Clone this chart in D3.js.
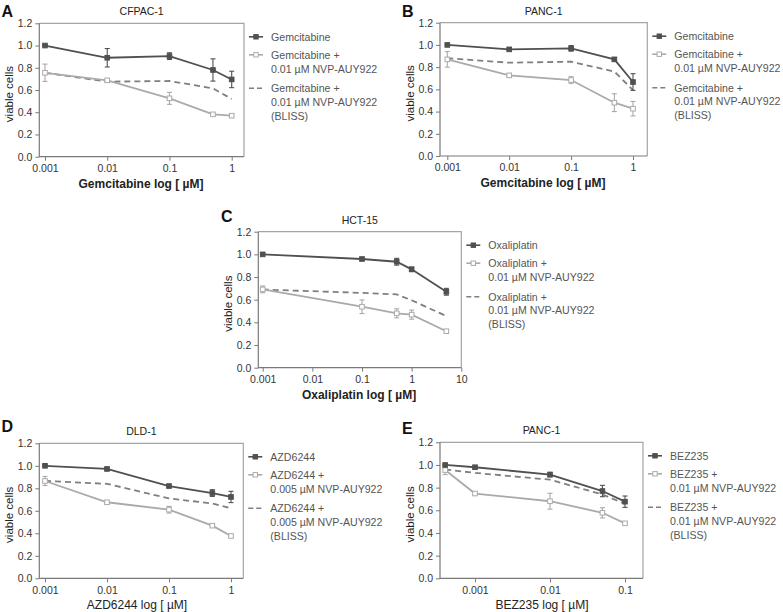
<!DOCTYPE html>
<html><head><meta charset="utf-8">
<script src="https://cdn.jsdelivr.net/npm/d3@7"></script>
<style>body{margin:0;background:#fff;} svg{display:block;font-family:Arial,"Liberation Sans",sans-serif;}</style>
</head><body>
<svg id="c" width="783" height="612"></svg>
<script>
// ---------- DATA ----------
const yTicks = [0, 0.2, 0.4, 0.6, 0.8, 1.0, 1.2];

// A: CFPAC-1, Gemcitabine
const aDose = [0.001, 0.01, 0.1, 0.5, 1];
const aSingle = [1.0, 0.89, 0.905, 0.78, 0.695];
const aSingleErr = [0.005, 0.083, 0.03, 0.1, 0.074];
const aCombo = [0.755, 0.687, 0.525, 0.381, 0.369];
const aComboErr = [0.078, 0.01, 0.054, 0.01, 0.01];
const aBliss = [0.755, 0.675, 0.681, 0.615, 0.519];
const aTicks = [0.001, 0.01, 0.1, 1];
const aTickLabels = ["0.001", "0.01", "0.1", "1"];

// B: PANC-1, Gemcitabine
const bDose = [0.001, 0.01, 0.1, 0.5, 1];
const bSingle = [1.0, 0.96, 0.969, 0.87, 0.666];
const bSingleErr = [0.005, 0.01, 0.025, 0.015, 0.075];
const bCombo = [0.87, 0.726, 0.684, 0.48, 0.426];
const bComboErr = [0.07, 0.012, 0.03, 0.08, 0.065];
const bBliss = [0.88, 0.84, 0.849, 0.76, 0.594];
const bTicks = [0.001, 0.01, 0.1, 1];
const bTickLabels = ["0.001", "0.01", "0.1", "1"];

// C: HCT-15, Oxaliplatin
const cDose = [0.001, 0.1, 0.5, 1, 5];
const cSingle = [1.0, 0.959, 0.935, 0.868, 0.67];
const cSingleErr = [0.005, 0.01, 0.03, 0.02, 0.03];
const cCombo = [0.691, 0.538, 0.48, 0.468, 0.322];
const cComboErr = [0.03, 0.06, 0.04, 0.04, 0.01];
const cBliss = [0.69, 0.66, 0.647, 0.595, 0.456];
const cTicks = [0.001, 0.01, 0.1, 1, 10];
const cTickLabels = ["0.001", "0.01", "0.1", "1", "10"];

// D: DLD-1, AZD6244
const dDose = [0.001, 0.01, 0.1, 0.5, 1];
const dSingle = [1.0, 0.972, 0.82, 0.758, 0.723];
const dSingleErr = [0.005, 0.01, 0.01, 0.03, 0.05];
const dCombo = [0.865, 0.676, 0.61, 0.468, 0.376];
const dComboErr = [0.04, 0.01, 0.03, 0.01, 0.01];
const dBliss = [0.865, 0.84, 0.71, 0.665, 0.622];
const dTicks = [0.001, 0.01, 0.1, 1];
const dTickLabels = ["0.001", "0.01", "0.1", "1"];

// E: PANC-1, BEZ235
const eDose = [0.0004, 0.001, 0.01, 0.05, 0.1];
const eSingle = [1.0, 0.98, 0.915, 0.77, 0.676];
const eSingleErr = [0.005, 0.01, 0.02, 0.05, 0.05];
const eCombo = [0.955, 0.748, 0.68, 0.578, 0.485];
const eComboErr = [0.04, 0.01, 0.07, 0.045, 0.01];
const eBliss = [0.96, 0.93, 0.87, 0.74, 0.656];
const eTicks = [0.001, 0.01, 0.1];
const eTickLabels = ["0.001", "0.01", "0.1"];

// Text
const panelLetters = ["A", "B", "C", "D", "E"];
const panelTitles = ["CFPAC-1", "PANC-1", "HCT-15", "DLD-1", "PANC-1"];
const xTitles = ["Gemcitabine log [ \u00b5M]", "Gemcitabine log [ \u00b5M]", "Oxaliplatin log [ \u00b5M]", "AZD6244 log [ \u00b5M]", "BEZ235 log [ \u00b5M]"];
const drugNames = ["Gemcitabine", "Gemcitabine", "Oxaliplatin", "AZD6244", "BEZ235"];
const hspConc = ["0.01", "0.01", "0.01", "0.005", "0.01"];

// ---------- LAYOUT ----------
const layout = [
  {axisX: 39.3, tx0: 45, tx1: 231.7, right: 244, top: 23.3, bottom: 156.7, boldX: true, letterX: 1.5, letterY: 17, titleX: 141},
  {axisX: 440, tx0: 447.3, tx1: 633, right: 647.3, top: 22.7, bottom: 156, boldX: true, letterX: 402, letterY: 17, titleX: 543},
  {axisX: 258.3, tx0: 262.7, tx1: 461.3, right: 461.3, top: 231.7, bottom: 367.7, boldX: true, letterX: 221, letterY: 222, titleX: 359},
  {axisX: 39.3, tx0: 45, tx1: 231, right: 243.3, top: 443.3, bottom: 578.3, boldX: false, letterX: 1.5, letterY: 432, titleX: 137},
  {axisX: 440, tx0: 475, tx1: 625, right: 643, top: 442.3, bottom: 578.3, boldX: false, letterX: 402, letterY: 434, titleX: 542}
];

const panelData = [
  [aDose, aSingle, aSingleErr, aCombo, aComboErr, aBliss, aTicks, aTickLabels],
  [bDose, bSingle, bSingleErr, bCombo, bComboErr, bBliss, bTicks, bTickLabels],
  [cDose, cSingle, cSingleErr, cCombo, cComboErr, cBliss, cTicks, cTickLabels],
  [dDose, dSingle, dSingleErr, dCombo, dComboErr, dBliss, dTicks, dTickLabels],
  [eDose, eSingle, eSingleErr, eCombo, eComboErr, eBliss, eTicks, eTickLabels]
];

const DARK = "#505050", LIGHT = "#aaaaaa", DASH = "#7f7f7f";
const AXIS = "#7a7a7a", FRAME = "#a5a5a5";

const svg = d3.select("#c");

panelData.forEach((pd, i) => {
  const [dose, single, singleErr, combo, comboErr, bliss, ticks, tickLabels] = pd;
  const L = layout[i];
  const g = svg.append("g");
  const x = d3.scaleLog().domain([ticks[0], ticks[ticks.length - 1]]).range([L.tx0, L.tx1]);
  const y = d3.scaleLinear().domain([0, 1.2]).range([L.bottom, L.top]);

  // frame (top & right)
  g.append("path").attr("d", `M${L.axisX},${L.top}H${L.right}V${L.bottom}`)
    .attr("fill", "none").attr("stroke", FRAME).attr("stroke-width", 1.2);

  // y axis
  const ya = g.append("g").attr("transform", `translate(${L.axisX},0)`)
    .call(d3.axisLeft(y).tickValues(yTicks).tickFormat(d3.format(".1f")).tickSize(4).tickPadding(3));
  // x axis
  const xa = g.append("g").attr("transform", `translate(0,${L.bottom})`)
    .call(d3.axisBottom(x).tickValues(ticks).tickFormat((d, k) => tickLabels[k]).tickSize(4).tickPadding(4).tickSizeOuter(0));
  [ya, xa].forEach(a => {
    a.select(".domain").remove();
    a.selectAll("line").attr("stroke", AXIS);
    a.selectAll("text").attr("fill", "#333").style("font-size", "10.5px").style("font-family", "Arial, 'Liberation Sans', sans-serif");
  });
  g.append("path").attr("d", `M${L.axisX},${L.top}V${L.bottom}H${L.right}`)
    .attr("fill", "none").attr("stroke", AXIS).attr("stroke-width", 1.2);

  // axis titles
  g.append("text").attr("x", L.titleX).attr("y", L.bottom + 31)
    .attr("text-anchor", "middle").attr("fill", "#222")
    .style("font-size", "12px").style("font-weight", L.boldX ? "bold" : "normal")
    .text(xTitles[i]);
  g.append("text").attr("transform", `translate(${L.axisX - 26},${(L.top + L.bottom) / 2 + 4}) rotate(-90)`)
    .attr("text-anchor", "middle").attr("fill", "#222").style("font-size", "11.5px")
    .text("viable cells");
  // panel title
  g.append("text").attr("x", (L.axisX + L.right) / 2).attr("y", L.top - 8)
    .attr("text-anchor", "middle").attr("fill", "#222").style("font-size", "10.5px")
    .text(panelTitles[i]);
  // panel letter
  g.append("text").attr("x", L.letterX).attr("y", L.letterY)
    .attr("fill", "#111").style("font-size", "16px").style("font-weight", "bold")
    .text(panelLetters[i]);

  const line = d3.line().x(d => x(d[0])).y(d => y(d[1]));
  const pts = (vals) => dose.map((d, k) => [d, vals[k]]);

  // bliss dashed
  g.append("path").attr("d", line(pts(bliss))).attr("fill", "none")
    .attr("stroke", DASH).attr("stroke-width", 1.8).attr("stroke-dasharray", "6,4");

  function series(vals, errs, color, filled) {
    g.append("path").attr("d", line(pts(vals))).attr("fill", "none")
      .attr("stroke", color).attr("stroke-width", 1.8);
    const eg = g.append("g").attr("stroke", color).attr("stroke-width", 1.1);
    dose.forEach((d, k) => {
      const cx = x(d), y1 = y(vals[k] + errs[k]), y2 = y(vals[k] - errs[k]);
      eg.append("line").attr("x1", cx).attr("x2", cx).attr("y1", y1).attr("y2", y2);
      eg.append("line").attr("x1", cx - 2.5).attr("x2", cx + 2.5).attr("y1", y1).attr("y2", y1);
      eg.append("line").attr("x1", cx - 2.5).attr("x2", cx + 2.5).attr("y1", y2).attr("y2", y2);
    });
    g.append("g").selectAll("rect").data(pts(vals)).join("rect")
      .attr("x", d => x(d[0]) - 2.3).attr("y", d => y(d[1]) - 2.3)
      .attr("width", 4.6).attr("height", 4.6)
      .attr("fill", filled ? color : "#fff").attr("stroke", color).attr("stroke-width", 1);
  }
  series(combo, comboErr, LIGHT, false);
  series(single, singleErr, DARK, true);

  // legend
  const lx0 = L.right + 5, lx1 = L.right + 19, tx = L.right + 27;
  const lg = g.append("g").style("font-size", "10.6px").attr("fill", "#555");
  const rows = [
    {y: L.top + 13.5, lines: [drugNames[i]], type: "dark"},
    {y: L.top + 31.5, lines: [drugNames[i] + " +", hspConc[i] + " \u00b5M NVP-AUY922"], type: "light"},
    {y: L.top + 65, lines: [drugNames[i] + " +", hspConc[i] + " \u00b5M NVP-AUY922", "(BLISS)"], type: "dash"}
  ];
  rows.forEach(r => {
    const c = r.type === "dark" ? DARK : r.type === "light" ? LIGHT : DASH;
    lg.append("line").attr("x1", lx0).attr("x2", lx1).attr("y1", r.y).attr("y2", r.y)
      .attr("stroke", c).attr("stroke-width", 1.6).attr("stroke-dasharray", r.type === "dash" ? "5,3" : null);
    if (r.type !== "dash") {
      lg.append("rect").attr("x", (lx0 + lx1) / 2 - 2.2).attr("y", r.y - 2.2).attr("width", 4.4).attr("height", 4.4)
        .attr("fill", r.type === "dark" ? DARK : "#fff").attr("stroke", c);
    }
    r.lines.forEach((t, k) => {
      lg.append("text").attr("x", tx).attr("y", r.y + 4 + k * 13.7).text(t);
    });
  });
});
</script>
</body></html>
